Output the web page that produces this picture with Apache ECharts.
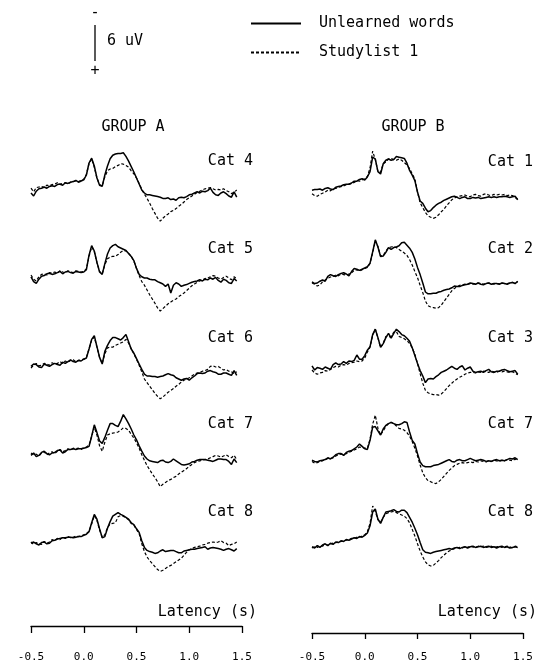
<!DOCTYPE html>
<html>
<head>
<meta charset="utf-8">
<title>ERP by category</title>
<script src="https://cdn.jsdelivr.net/npm/echarts@6/dist/echarts.min.js"></script>
<style>
  html, body { margin: 0; padding: 0; background: #fff; }
  #main { width: 540px; height: 664px; }
</style>
</head>
<body>
<div id="main"></div>
<script>
// sample clock of the averaged traces (s)
var firstLatency = -0.5;
var sampleStep = 0.025;
var sampleCount = 79;

var latencyTicks = [-0.5, 0.0, 0.5, 1.0, 1.5];
var conditions = ['Unlearned words', 'Studylist 1'];
var groups = ['GROUP A', 'GROUP B'];
var catsA = ['Cat 4', 'Cat 5', 'Cat 6', 'Cat 7', 'Cat 8'];
var catsB = ['Cat 1', 'Cat 2', 'Cat 3', 'Cat 7', 'Cat 8'];
var scaleBarUv = 6;

// amplitudes in uV (negative is plotted up)
var a4Unlearned = [
  0.5, 1.0, 0.2, -0.2, -0.3, -0.5, -0.3, -0.6, -0.7, -0.6,
  -0.9, -1.0, -0.8, -1.2, -1.1, -1.3, -1.4, -1.6, -1.3, -1.5,
  -1.7, -2.5, -4.5, -5.3, -4.0, -2.0, -0.8, -0.6, -2.5, -4.0,
  -5.2, -5.8, -6.0, -6.1, -6.1, -6.2, -5.6, -4.8, -3.9, -3.0,
  -2.0, -1.0, 0.0, 0.5, 0.8, 0.8, 0.9, 1.0, 1.1, 1.2,
  1.4, 1.4, 1.3, 1.6, 1.5, 1.7, 1.3, 1.2, 1.3, 1.1,
  0.8, 0.7, 0.5, 0.3, 0.5, 0.2, 0.3, 0.1, -0.3, 0.4,
  0.8, 0.9, 0.5, 0.3, 0.6, 1.0, 1.2, 0.3, 1.2];
var a4Study = [
  -0.3, 0.3, -0.4, -0.5, -0.6, -0.4, -0.8, -0.7, -0.9, -1.0,
  -1.2, -0.9, -1.1, -1.2, -1.0, -1.3, -1.4, -1.5, -1.4, -1.6,
  -1.8, -2.6, -4.4, -5.2, -3.8, -2.0, -0.9, -0.7, -2.2, -3.2,
  -3.5, -3.6, -3.9, -4.1, -4.4, -4.3, -4.1, -3.8, -3.2, -2.7,
  -2.0, -1.1, -0.1, 0.7, 1.4, 2.2, 3.1, 3.9, 4.7, 5.2,
  4.7, 4.3, 4.0, 3.6, 3.4, 3.1, 2.7, 2.4, 2.0, 1.6,
  1.3, 1.0, 0.7, 0.4, 0.2, 0.0, -0.2, -0.3, -0.4, -0.2,
  0.0, -0.1, 0.0, -0.2, 0.1, 0.3, 0.6, 0.4, 0.0];
var a5Unlearned = [
  -0.2, 0.6, 0.9, 0.2, -0.3, -0.4, -0.7, -0.8, -0.6, -0.7,
  -0.9, -1.1, -0.7, -1.0, -1.1, -0.9, -0.8, -1.1, -1.0, -0.9,
  -1.0, -1.4, -3.8, -5.4, -4.5, -2.6, -1.0, -0.6, -2.4, -4.0,
  -5.0, -5.4, -5.6, -5.2, -5.0, -4.8, -4.6, -4.1, -3.6, -2.9,
  -1.6, -0.6, -0.2, 0.0, 0.0, 0.2, 0.3, 0.3, 0.6, 0.8,
  1.0, 1.4, 1.0, 2.5, 1.2, 0.8, 1.0, 1.4, 1.2, 1.1,
  0.9, 0.7, 0.6, 0.5, 0.3, 0.5, 0.2, 0.3, 0.0, 0.2,
  -0.1, 0.4, 0.7, 0.2, 0.4, 0.8, 0.9, 0.1, 0.5];
var a5Study = [
  -0.5, 0.2, 0.5, -0.2, -0.6, -0.7, -0.5, -0.9, -0.8, -1.0,
  -0.8, -1.2, -1.0, -0.9, -1.2, -1.0, -0.9, -1.2, -1.1, -1.0,
  -1.1, -1.5, -3.6, -5.2, -4.4, -2.6, -1.1, -0.7, -2.2, -3.2,
  -3.5, -3.6, -3.6, -3.9, -4.3, -4.6, -4.5, -4.1, -3.6, -2.8,
  -1.6, -0.4, 0.6, 1.2, 2.0, 2.8, 3.5, 4.2, 5.0, 5.5,
  5.1, 4.7, 4.3, 4.0, 3.7, 3.5, 3.1, 2.8, 2.5, 2.1,
  1.7, 1.3, 1.0, 0.7, 0.5, 0.3, 0.1, 0.0, -0.2, -0.4,
  -0.3, 0.0, 0.2, -0.1, -0.3, 0.0, 0.3, -0.2, 0.1];
var a6Unlearned = [
  -0.1, -0.5, -0.4, 0.0, 0.1, -0.5, -0.3, -0.1, -0.4, -0.6,
  -0.4, -0.3, -0.8, -0.6, -0.9, -1.2, -0.9, -0.8, -1.1, -1.0,
  -1.3, -1.5, -3.0, -4.6, -5.2, -3.4, -1.6, -0.5, -2.6, -3.6,
  -4.4, -4.9, -4.9, -4.7, -4.5, -4.9, -5.4, -4.2, -3.0, -2.3,
  -1.4, -0.5, 0.4, 1.2, 1.5, 1.5, 1.6, 1.6, 1.7, 1.6,
  1.5, 1.3, 1.1, 1.3, 1.4, 1.8, 2.0, 2.2, 2.0, 1.9,
  2.2, 1.8, 1.5, 1.1, 1.0, 1.1, 1.0, 0.7, 0.6, 0.8,
  0.9, 1.2, 1.2, 1.0, 1.0, 1.2, 1.4, 0.6, 1.4];
var a6Study = [
  0.2, -0.3, -0.6, -0.2, -0.3, -0.6, -0.5, -0.3, -0.7, -0.5,
  -0.6, -0.9, -0.6, -1.0, -0.8, -1.1, -1.2, -0.9, -1.1, -1.2,
  -1.3, -1.6, -3.0, -4.5, -5.0, -3.3, -1.6, -0.6, -2.2, -3.2,
  -3.3, -3.3, -3.6, -3.8, -4.0, -4.2, -4.6, -4.0, -3.0, -2.2,
  -1.3, -0.3, 0.8, 2.0, 2.6, 3.2, 3.8, 4.4, 4.9, 5.3,
  5.0, 4.6, 4.2, 3.9, 3.6, 3.2, 2.9, 2.5, 2.2, 2.0,
  1.8, 1.5, 1.2, 1.0, 0.9, 0.7, 0.6, 0.4, -0.1, -0.2,
  0.0, -0.1, 0.2, 0.5, 0.4, 0.7, 0.8, 1.1, 0.8];
var a7Unlearned = [
  0.4, 0.0, 0.6, 0.4, -0.1, -0.3, 0.1, 0.3, 0.0, -0.1,
  -0.4, -0.5, 0.0, -0.2, -0.6, -0.6, -0.7, -0.6, -0.7, -0.7,
  -0.8, -0.9, -1.1, -2.8, -4.7, -3.4, -2.0, -1.6, -2.6, -3.8,
  -4.9, -4.9, -4.6, -4.4, -5.3, -6.4, -5.7, -4.9, -4.0, -3.0,
  -2.2, -1.2, -0.3, 0.5, 1.0, 1.3, 1.4, 1.5, 1.6, 1.3,
  1.2, 1.5, 1.6, 1.4, 1.0, 1.3, 1.6, 1.9, 2.0, 1.9,
  1.8, 1.5, 1.4, 1.2, 1.1, 1.1, 1.1, 1.2, 1.3, 1.4,
  1.2, 1.0, 1.0, 1.1, 1.1, 1.4, 1.9, 1.0, 1.6];
var a7Study = [
  0.0, 0.3, 0.2, 0.5, 0.0, -0.2, 0.3, 0.0, -0.2, 0.1,
  -0.3, -0.6, -0.2, -0.4, -0.7, -0.5, -0.8, -0.7, -0.8, -0.6,
  -0.9, -1.0, -1.3, -2.8, -4.3, -3.0, -1.2, -0.3, -1.8, -3.0,
  -3.2, -3.3, -3.4, -3.5, -3.8, -4.2, -4.1, -3.8, -3.1, -2.5,
  -1.7, -0.8, 0.3, 1.2, 2.1, 2.8, 3.5, 4.1, 4.8, 5.6,
  5.2, 4.9, 4.6, 4.4, 4.1, 3.9, 3.5, 3.2, 2.9, 2.6,
  2.2, 1.9, 1.6, 1.4, 1.3, 1.2, 1.1, 1.0, 0.8, 0.6,
  0.4, 0.5, 0.7, 0.5, 0.3, 0.6, 0.8, 0.4, 1.1];
var a8Unlearned = [
  0.2, 0.0, 0.3, 0.5, 0.1, 0.0, 0.3, 0.2, -0.2, -0.3,
  -0.5, -0.6, -0.7, -0.7, -0.8, -0.8, -0.7, -0.8, -0.9, -0.9,
  -1.1, -1.3, -1.7, -3.2, -4.6, -3.8, -2.2, -0.7, -0.9, -2.3,
  -3.4, -4.3, -4.6, -4.9, -4.6, -4.4, -4.1, -3.8, -3.2, -2.9,
  -2.2, -1.6, -0.2, 0.9, 1.4, 1.6, 1.7, 1.9, 1.8, 1.5,
  1.3, 1.6, 1.5, 1.4, 1.4, 1.6, 1.8, 1.8, 1.5, 1.4,
  1.3, 1.2, 1.2, 1.1, 1.0, 0.9, 0.8, 1.2, 1.0, 0.9,
  1.0, 1.1, 1.2, 1.4, 1.2, 1.1, 1.3, 1.5, 1.1];
var a8Study = [
  0.0, 0.4, 0.1, 0.3, 0.4, -0.1, 0.2, 0.0, -0.4, -0.2,
  -0.6, -0.4, -0.8, -0.6, -0.9, -0.7, -0.8, -1.0, -0.9, -1.0,
  -1.2, -1.4, -1.8, -3.0, -4.4, -3.6, -2.0, -0.8, -1.2, -2.4,
  -3.0, -3.1, -3.2, -4.2, -4.4, -4.3, -4.0, -3.7, -3.1, -2.8,
  -2.1, -1.4, 0.3, 1.6, 2.5, 3.1, 3.6, 4.1, 4.6, 4.9,
  4.7, 4.4, 4.1, 3.9, 3.6, 3.3, 3.0, 2.7, 2.2, 1.7,
  1.3, 1.1, 0.9, 0.8, 0.7, 0.5, 0.4, 0.2, 0.1, 0.0,
  0.1, 0.0, -0.2, 0.1, 0.2, 0.6, 0.4, 0.3, 0.0];

var b1Unlearned = [
  -0.3, -0.4, -0.4, -0.5, -0.3, -0.6, -0.7, -0.5, -0.4, -0.8,
  -0.9, -1.0, -1.2, -1.3, -1.3, -1.5, -1.8, -1.8, -2.1, -2.2,
  -2.0, -2.5, -3.4, -5.8, -5.5, -3.4, -3.0, -4.7, -5.3, -5.5,
  -5.3, -5.4, -5.9, -5.8, -5.7, -5.6, -4.8, -3.6, -2.8, -1.9,
  0.0, 1.5, 1.9, 2.7, 3.3, 3.1, 2.6, 2.2, 1.9, 1.7,
  1.4, 1.2, 1.0, 0.8, 0.7, 0.9, 1.1, 0.9, 0.8, 1.1,
  1.1, 0.9, 1.0, 0.9, 1.1, 1.0, 0.9, 0.8, 0.9, 0.8,
  0.9, 0.8, 0.8, 0.7, 0.8, 0.9, 0.8, 0.7, 1.3];
var b1Study = [
  0.3, 0.6, 0.7, 0.4, 0.2, 0.0, -0.3, -0.2, -0.5, -0.6,
  -0.8, -0.9, -1.0, -1.2, -1.3, -1.4, -1.6, -1.9, -1.8, -2.0,
  -2.2, -2.6, -4.0, -6.8, -5.4, -3.4, -3.3, -4.7, -5.0, -5.5,
  -5.6, -5.4, -5.3, -5.5, -5.3, -4.9, -4.5, -3.9, -3.0, -2.2,
  0.0, 1.8, 2.6, 3.4, 4.0, 4.2, 4.4, 4.2, 3.8, 3.3,
  2.9, 2.3, 1.8, 1.3, 1.0, 0.8, 0.7, 0.6, 0.5, 0.7,
  0.8, 0.5, 0.4, 0.6, 0.7, 0.4, 0.3, 0.5, 0.6, 0.4,
  0.5, 0.4, 0.5, 0.4, 0.6, 0.5, 0.6, 0.9, 1.2];
var b2Unlearned = [
  -0.2, 0.1, 0.0, -0.3, -0.5, -0.3, -1.1, -1.4, -1.2, -1.1,
  -1.4, -1.6, -1.7, -1.5, -1.2, -1.9, -2.4, -2.3, -2.1, -2.3,
  -2.5, -2.7, -3.3, -5.2, -7.2, -6.0, -4.4, -4.5, -5.1, -5.9,
  -5.6, -5.9, -6.0, -6.2, -6.7, -6.8, -6.3, -5.8, -5.1, -4.0,
  -2.6, -1.4, 0.0, 1.5, 1.8, 1.8, 1.7, 1.7, 1.5, 1.4,
  1.2, 1.1, 1.0, 0.8, 0.5, 0.6, 0.6, 0.4, 0.3, 0.2,
  0.0, 0.1, 0.2, 0.0, 0.2, 0.3, 0.1, 0.0, 0.2, 0.1,
  0.1, 0.2, 0.0, 0.1, 0.2, 0.0, -0.1, 0.1, -0.3];
var b2Study = [
  0.0, 0.2, 0.5, 0.3, -0.2, -0.5, -0.8, -1.0, -1.1, -1.3,
  -1.2, -1.5, -1.4, -1.3, -1.5, -1.7, -2.1, -2.2, -2.0, -2.2,
  -2.4, -2.6, -3.3, -5.0, -7.0, -6.1, -4.5, -4.6, -5.3, -5.9,
  -6.0, -6.1, -5.9, -5.6, -5.3, -5.0, -4.6, -3.9, -3.0, -1.9,
  -0.9, 0.4, 1.6, 3.0, 3.8, 4.0, 4.1, 4.2, 4.1, 3.7,
  3.1, 2.5, 1.9, 1.3, 0.9, 0.6, 0.4, 0.3, 0.2, 0.2,
  0.1, 0.2, 0.1, 0.0, 0.1, 0.2, 0.1, 0.0, 0.1, 0.2,
  0.1, 0.1, 0.0, 0.1, 0.1, 0.0, -0.1, 0.0, -0.2];
var b3Unlearned = [
  -0.7, 0.0, -0.4, -0.3, -0.1, -0.5, -0.3, -0.1, -0.9, -1.2,
  -0.9, -1.0, -1.4, -1.1, -1.5, -1.4, -1.6, -2.5, -1.8, -1.8,
  -2.4, -3.3, -3.9, -5.9, -6.8, -5.4, -3.8, -4.4, -5.4, -6.1,
  -5.3, -6.1, -6.8, -6.4, -5.9, -5.7, -5.3, -4.8, -3.7, -2.4,
  -1.1, 0.1, 1.0, 2.1, 1.5, 1.4, 1.5, 1.1, 0.8, 0.4,
  0.2, 0.0, -0.3, -0.6, -0.3, -0.1, -0.5, -0.7, 0.0, -0.3,
  -0.5, 0.2, 0.4, 0.3, 0.2, 0.4, 0.1, -0.1, 0.3, 0.4,
  0.2, 0.2, 0.0, -0.1, 0.1, 0.3, 0.2, 0.1, 0.7];
var b3Study = [
  0.0, 0.5, 0.7, 0.5, 0.4, 0.1, 0.2, -0.1, -0.4, -0.6,
  -0.5, -0.8, -0.9, -0.8, -1.1, -1.2, -1.3, -1.5, -1.4, -1.5,
  -2.0, -3.0, -3.8, -5.8, -6.8, -5.3, -3.8, -4.4, -5.6, -5.5,
  -5.6, -6.3, -6.4, -5.6, -5.4, -5.2, -4.9, -4.4, -3.7, -2.6,
  -1.1, 0.6, 2.2, 3.4, 3.8, 4.0, 4.1, 4.1, 4.2, 4.0,
  3.6, 3.1, 2.6, 2.2, 1.8, 1.5, 1.2, 1.0, 0.7, 0.5,
  0.4, 0.4, 0.5, 0.3, 0.4, 0.2, 0.3, 0.4, 0.2, 0.3,
  0.4, 0.2, 0.3, 0.2, 0.3, 0.4, 0.3, 0.5, 0.8];
var b7Unlearned = [
  -0.3, -0.1, 0.0, -0.2, -0.3, -0.4, -0.7, -0.5, -0.8, -1.2,
  -1.4, -1.4, -1.1, -1.6, -1.8, -1.9, -2.2, -2.5, -3.0, -2.6,
  -2.2, -2.1, -3.6, -5.8, -5.9, -5.2, -4.5, -5.5, -6.1, -6.4,
  -6.6, -6.4, -6.2, -6.2, -6.4, -6.7, -6.6, -5.0, -3.6, -3.0,
  -1.4, 0.0, 0.6, 0.8, 0.8, 0.8, 0.6, 0.5, 0.4, 0.2,
  0.0, -0.2, -0.4, -0.1, 0.0, -0.3, -0.4, -0.2, -0.2, -0.4,
  -0.6, -0.4, -0.2, -0.3, -0.4, -0.3, -0.1, -0.2, -0.1, -0.3,
  -0.4, -0.2, -0.3, -0.2, -0.4, -0.6, -0.5, -0.7, -0.4];
var b7Study = [
  -0.1, 0.2, 0.1, -0.1, -0.2, -0.4, -0.6, -0.6, -0.7, -1.0,
  -1.2, -1.3, -1.3, -1.4, -1.6, -1.8, -2.0, -2.2, -2.5, -2.4,
  -2.3, -2.3, -3.8, -6.3, -7.8, -5.6, -4.5, -5.2, -5.9, -6.4,
  -6.6, -6.4, -6.0, -5.6, -5.5, -5.3, -4.9, -4.3, -3.4, -2.3,
  -1.0, 0.5, 1.8, 2.6, 3.1, 3.3, 3.5, 3.6, 3.3, 2.9,
  2.4, 1.9, 1.4, 1.0, 0.6, 0.4, 0.2, 0.1, 0.2, 0.1,
  0.0, 0.1, -0.1, 0.0, -0.2, -0.1, 0.0, -0.2, -0.1, -0.3,
  -0.2, -0.1, -0.3, -0.2, -0.4, -0.3, -0.2, -0.5, -0.2];
var b8Unlearned = [
  0.3, 0.5, 0.1, 0.4, 0.0, -0.2, 0.1, -0.3, -0.1, -0.5,
  -0.4, -0.7, -0.6, -0.9, -0.8, -1.0, -1.2, -1.1, -1.4, -1.3,
  -1.6, -2.0, -3.2, -5.5, -6.0, -4.3, -3.6, -4.6, -5.5, -5.6,
  -5.7, -5.9, -5.6, -5.5, -5.8, -5.8, -5.4, -4.6, -3.8, -2.8,
  -1.7, -0.4, 0.8, 1.2, 1.3, 1.4, 1.2, 1.1, 1.0, 0.9,
  0.8, 0.7, 0.6, 0.7, 0.5, 0.4, 0.6, 0.4, 0.3, 0.5,
  0.3, 0.2, 0.4, 0.3, 0.2, 0.4, 0.3, 0.2, 0.4, 0.3,
  0.5, 0.3, 0.2, 0.4, 0.3, 0.5, 0.4, 0.3, 0.4];
var b8Study = [
  0.5, 0.3, 0.4, 0.1, 0.2, -0.1, 0.0, -0.2, -0.3, -0.4,
  -0.5, -0.6, -0.7, -0.8, -0.9, -1.1, -1.1, -1.3, -1.3, -1.5,
  -1.7, -2.2, -3.6, -6.5, -5.6, -4.2, -3.8, -4.6, -5.2, -5.4,
  -5.5, -5.6, -5.4, -5.2, -5.0, -4.8, -4.4, -3.7, -2.6, -1.5,
  -0.2, 1.0, 2.0, 2.8, 3.3, 3.5, 3.4, 3.0, 2.6, 2.1,
  1.7, 1.3, 1.0, 0.8, 0.6, 0.5, 0.4, 0.5, 0.3, 0.4,
  0.2, 0.3, 0.4, 0.2, 0.3, 0.2, 0.4, 0.3, 0.2, 0.4,
  0.3, 0.2, 0.4, 0.3, 0.2, 0.3, 0.5, 0.2, 0.3];

var panelsA = [[a4Unlearned, a4Study], [a5Unlearned, a5Study], [a6Unlearned, a6Study], [a7Unlearned, a7Study], [a8Unlearned, a8Study]];
var panelsB = [[b1Unlearned, b1Study], [b2Unlearned, b2Study], [b3Unlearned, b3Study], [b7Unlearned, b7Study], [b8Unlearned, b8Study]];

// layout
var MONO = '"DejaVu Sans Mono", monospace';
var pxPerUv = 6;
var uvTop = -9, uvBottom = 7;
var colLeft = [31, 312];
var plotWidth = 211;
var rowZero = [[190, 278, 367, 453, 542], [192, 283, 370, 462, 545]];
var labelY = [[154, 242, 331, 417, 505], [155, 242, 331, 417, 505]];
var labelRight = [287, 7];
var groupCenter = [133, 413];
var axisLineY = [626, 633];

var latency = [];
for (var i = 0; i < sampleCount; i++) {
  latency.push(+(firstLatency + i * sampleStep).toFixed(3));
}

function pairUp(values) {
  var res = [];
  for (var i = 0; i < values.length; i++) {
    res.push([latency[i], values[i]]);
  }
  return res;
}

var grid = [], xAxis = [], yAxis = [], series = [], title = [];
var columns = [panelsA, panelsB];
var catNames = [catsA, catsB];

for (var c = 0; c < 2; c++) {
  title.push({
    text: groups[c], left: groupCenter[c], top: 120, textAlign: 'center', padding: 0,
    textStyle: { fontFamily: MONO, fontSize: 15, fontWeight: 'normal', color: '#000' }
  });
  for (var r = 0; r < 5; r++) {
    var idx = grid.length;
    grid.push({
      left: colLeft[c], width: plotWidth,
      top: rowZero[c][r] + uvTop * pxPerUv,
      height: (uvBottom - uvTop) * pxPerUv,
      outerBoundsMode: 'none'
    });
    xAxis.push({ gridIndex: idx, type: 'value', min: -0.5, max: 1.5, show: false });
    yAxis.push({ gridIndex: idx, type: 'value', min: uvTop, max: uvBottom, inverse: true, show: false });
    series.push({
      name: conditions[0], type: 'line', xAxisIndex: idx, yAxisIndex: idx,
      data: pairUp(columns[c][r][0]), symbol: 'none', clip: false,
      lineStyle: { color: '#000', width: 1.5 }, itemStyle: { color: '#000' }, z: 3
    });
    series.push({
      name: conditions[1], type: 'line', xAxisIndex: idx, yAxisIndex: idx,
      data: pairUp(columns[c][r][1]), symbol: 'none', clip: false,
      lineStyle: { color: '#000', width: 1.2, type: [3, 2] }, itemStyle: { color: '#000' }, z: 2
    });
    title.push({
      text: catNames[c][r], right: labelRight[c], top: labelY[c][r], padding: 0,
      textStyle: { fontFamily: MONO, fontSize: 15, fontWeight: 'normal', color: '#000' }
    });
  }
}

// latency axes under each column
for (var c2 = 0; c2 < 2; c2++) {
  var gi = grid.length;
  grid.push({ left: colLeft[c2], width: plotWidth, top: axisLineY[c2] - 6, height: 6, outerBoundsMode: 'none' });
  xAxis.push({
    gridIndex: gi, type: 'value', position: 'bottom',
    min: latencyTicks[0], max: latencyTicks[latencyTicks.length - 1], interval: 0.5,
    splitLine: { show: false },
    axisLine: { lineStyle: { color: '#000', width: 1.3 } },
    axisTick: { length: c2 === 0 ? 7 : 6, lineStyle: { color: '#000', width: 1.3 } },
    axisLabel: {
      margin: c2 === 0 ? 26 : 19, color: '#000', fontFamily: MONO, fontSize: 11,
      formatter: function (v) { return v.toFixed(1); }
    },
    name: 'Latency (s)', nameLocation: 'end', nameGap: c2 === 0 ? 15 : 14,
    nameTextStyle: {
      fontFamily: MONO, fontSize: 15, color: '#000', align: 'right', verticalAlign: 'bottom',
      padding: [0, 0, c2 === 0 ? 6 : 13, 0]
    }
  });
  yAxis.push({ gridIndex: gi, type: 'value', min: 0, max: 1, show: false });
}

// 6 uV scale bar, drawn on the same uV scale as the traces
var sb = grid.length;
grid.push({ left: 94, width: 2, top: 25, height: scaleBarUv * pxPerUv, outerBoundsMode: 'none' });
xAxis.push({ gridIndex: sb, type: 'value', min: 0, max: 1, show: false });
yAxis.push({ gridIndex: sb, type: 'value', min: 0, max: scaleBarUv, inverse: true, show: false });
series.push({
  type: 'line', xAxisIndex: sb, yAxisIndex: sb, data: [[0.5, 0], [0.5, scaleBarUv]],
  symbol: 'none', clip: false, lineStyle: { color: '#000', width: 1.3 }
});

var smallText = { fontFamily: MONO, fontSize: 15, fontWeight: 'normal', color: '#000' };
title.push({ text: scaleBarUv + ' uV', left: 107, top: 34, padding: 0, textStyle: smallText });
title.push({ text: '-', left: 95, top: 6, textAlign: 'center', padding: 0, textStyle: smallText });
title.push({ text: '+', left: 95, top: 64, textAlign: 'center', padding: 0, textStyle: smallText });

var chart = echarts.init(document.getElementById('main'));
chart.setOption({
  backgroundColor: '#fff',
  animation: false,
  title: title,
  legend: {
    data: conditions, left: 250, top: 16, orient: 'vertical', padding: 0,
    itemWidth: 50, itemHeight: 14, itemGap: 14, selectedMode: false,
    itemStyle: { opacity: 0 },
    textStyle: { fontFamily: MONO, fontSize: 15, color: '#000', padding: [0, 0, 0, 13] }
  },
  grid: grid,
  xAxis: xAxis,
  yAxis: yAxis,
  series: series
});
</script>
</body>
</html>
